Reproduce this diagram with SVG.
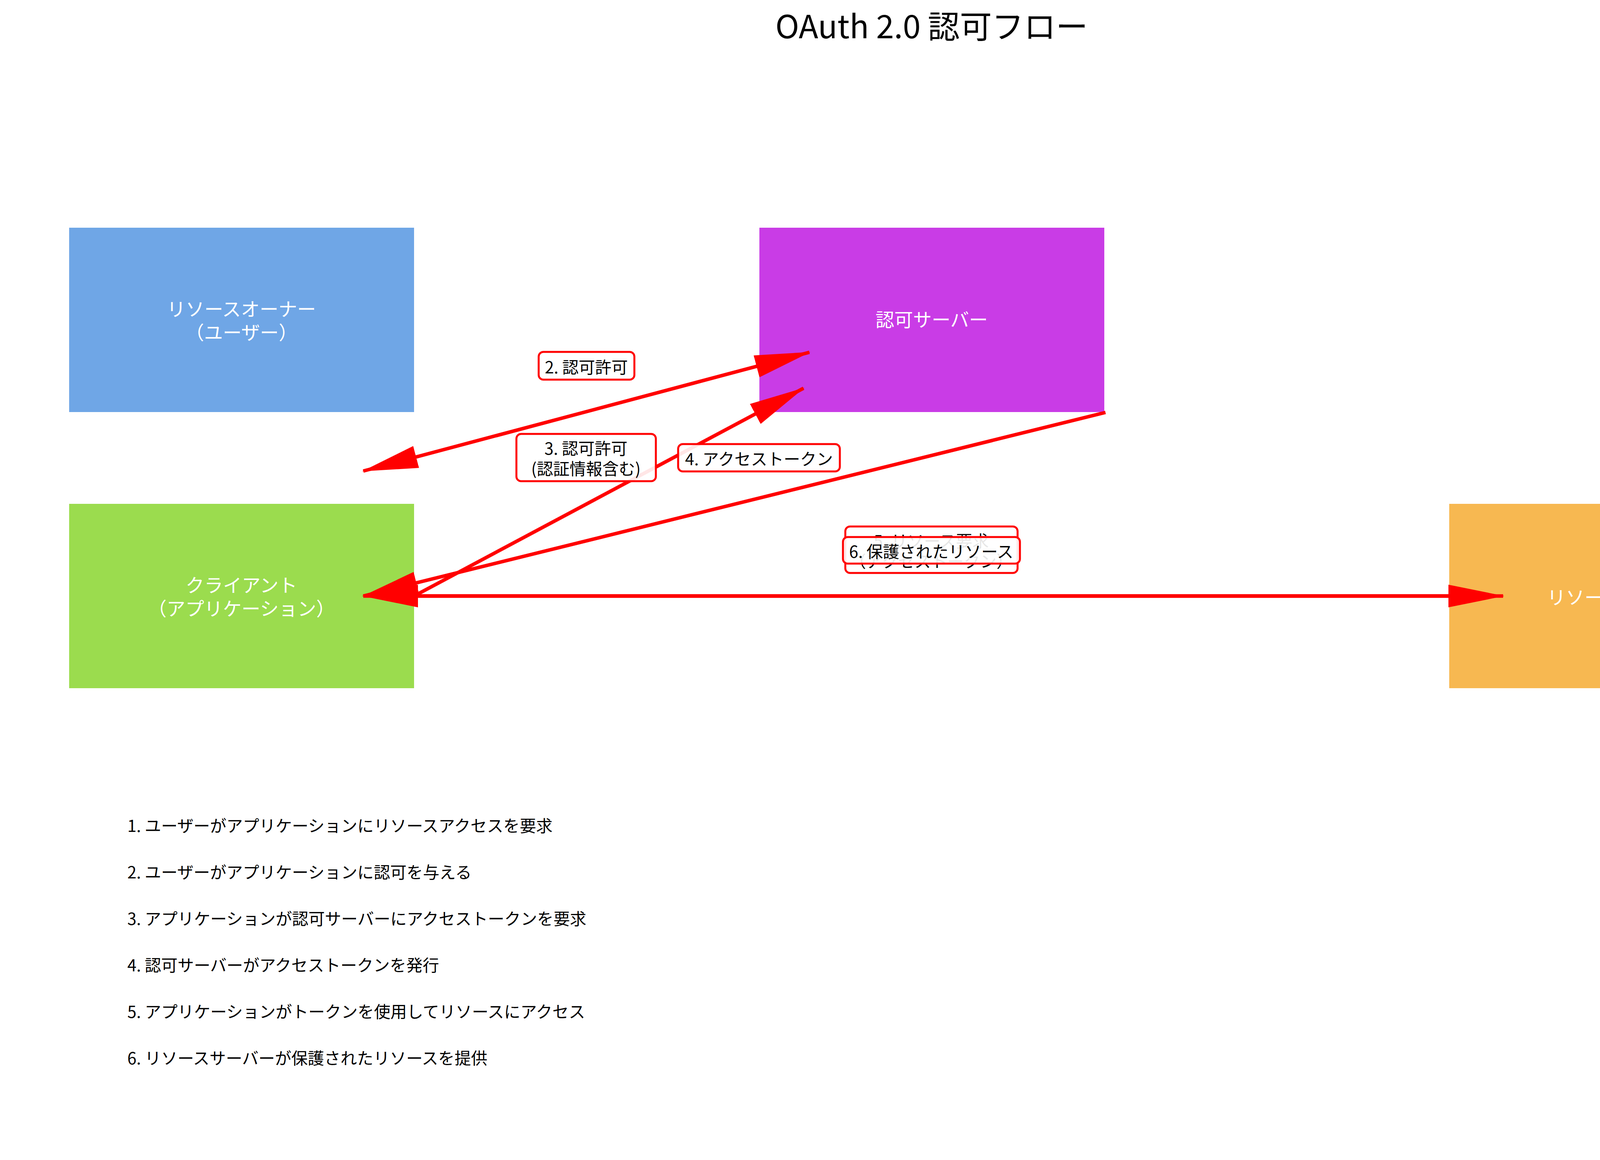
<svg xmlns="http://www.w3.org/2000/svg" width="4770" height="2970" viewBox="0 0 4770 2970">
<style>
text{font-family:"Noto Sans CJK JP","Noto Sans",sans-serif}
.node text{fill:#fff;font-size:48px;text-anchor:middle;dominant-baseline:central}
.edge{stroke:#ff0000;stroke-width:9;fill:none}
.lbl rect{fill:#fff;fill-opacity:0.9;stroke:#ff0000;stroke-width:5}
.lbl text{fill:#000;font-size:42px;text-anchor:middle;dominant-baseline:central}
.legend{font-size:42px;fill:#000}
</style>
<defs>
<marker id="ah" markerUnits="userSpaceOnUse" markerWidth="143" markerHeight="58" refX="140" refY="29" orient="auto-start-reverse" viewBox="0 0 143 58">
<path d="M0,0 L143,29 L0,58 z" fill="#ff0000"/>
</marker>
</defs>
<rect width="4770" height="2970" fill="#fff"/>
<text x="2385" y="62" font-size="82" text-anchor="middle" dominant-baseline="central" fill="#000">OAuth 2.0 認可フロー</text>
<g id="owner" class="node"><rect x="177" y="583" width="883" height="472" fill="#6fa6e6"/><text x="618" y="788">リソースオーナー</text><text x="618" y="848">（ユーザー）</text></g>
<g id="auth" class="node"><rect x="1944" y="583" width="883" height="472" fill="#c93ce6"/><text x="2385" y="815">認可サーバー</text></g>
<g id="client" class="node"><rect x="177" y="1290" width="883" height="472" fill="#9bdc4e"/><text x="618" y="1495">クライアント</text><text x="618" y="1555">（アプリケーション）</text></g>
<g id="resource" class="node"><rect x="3710" y="1290" width="883" height="472" fill="#f7b851"/><text x="4151" y="1526">リソースサーバー</text></g>
<g id="connectors">
<line class="edge" x1="930" y1="1206" x2="2072" y2="902" marker-start="url(#ah)" marker-end="url(#ah)"/>
<line class="edge" x1="1060" y1="1526" x2="2057" y2="994" marker-end="url(#ah)"/>
<line class="edge" x1="2830" y1="1056" x2="930" y2="1526" marker-end="url(#ah)"/>
<line class="edge" x1="1060" y1="1526" x2="3848" y2="1526" marker-end="url(#ah)"/>
<line class="edge" x1="3710" y1="1526" x2="930" y2="1526" marker-end="url(#ah)"/>
<g class="lbl"><rect x="1379" y="901" width="245" height="71" rx="12"/><text x="1501" y="937">2. 認可許可</text></g>
<g class="lbl"><rect x="1322" y="1111" width="357" height="121" rx="12"/><text x="1500" y="1145">3. 認可許可</text><text x="1500" y="1197">(認証情報含む)</text></g>
<g class="lbl"><rect x="1736" y="1137" width="414" height="70" rx="12"/><text x="1943" y="1172">4. アクセストークン</text></g>
<g class="lbl"><rect x="2164" y="1348" width="441" height="119" rx="12"/><text x="2384" y="1382">5. リソース要求</text><text x="2384" y="1434">（アクセストークン）</text></g>
<g class="lbl"><rect x="2158" y="1375" width="453" height="68" rx="12"/><text x="2384" y="1409">6. 保護されたリソース</text></g>
</g>
<g class="legend">
<text x="326" y="2111" dominant-baseline="central">1. ユーザーがアプリケーションにリソースアクセスを要求</text>
<text x="326" y="2230" dominant-baseline="central">2. ユーザーがアプリケーションに認可を与える</text>
<text x="326" y="2349" dominant-baseline="central">3. アプリケーションが認可サーバーにアクセストークンを要求</text>
<text x="326" y="2468" dominant-baseline="central">4. 認可サーバーがアクセストークンを発行</text>
<text x="326" y="2587" dominant-baseline="central">5. アプリケーションがトークンを使用してリソースにアクセス</text>
<text x="326" y="2706" dominant-baseline="central">6. リソースサーバーが保護されたリソースを提供</text>
</g>
</svg>
